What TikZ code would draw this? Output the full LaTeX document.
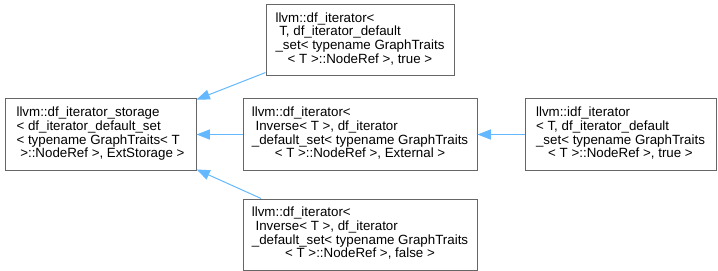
\documentclass[tikz,border=0pt]{standalone}
\usepackage{fontspec}
\setmainfont{Liberation Sans}
\usepackage{tikz}
\usetikzlibrary{arrows.meta}
\definecolor{boxgray}{HTML}{666666}
\definecolor{linkblue}{HTML}{63B8FF}
% class label: left-set lines, last line centred
\newcommand{\classlabel}[2]{%
  \begin{tabular}{@{}l@{}}#1\\\multicolumn{1}{@{}c@{}}{#2}\end{tabular}}

\begin{document}
\begin{tikzpicture}[x=0.75pt,y=-0.75pt,
    cls/.style={draw=boxgray,fill=white,line width=0.75pt,inner sep=0pt,
      minimum height=53.25pt,font=\fontsize{10}{10}\selectfont},
    inherit/.style={draw=linkblue,line width=0.75pt,
      -{Triangle[length=10pt,width=7.5pt]}}]
  \useasboundingbox (0,0) rectangle (718,271);
  % classes
  \node[cls,minimum width=143.25pt] (storage) at (100.5,134.5)
    {\classlabel{llvm::df\_iterator\_storage\\< df\_iterator\_default\_set\\< typename GraphTraits< T}{\ >::NodeRef >, ExtStorage >}};
  \node[cls,minimum width=141pt] (dfiter) at (360,40)
    {\classlabel{llvm::df\_iterator<\\\ T, df\_iterator\_default\\\_set< typename GraphTraits}{< T >::NodeRef >, true >}};
  \node[cls,minimum width=175.5pt] (dfinvext) at (360,134.5)
    {\classlabel{llvm::df\_iterator<\\\ Inverse< T >, df\_iterator\\\_default\_set< typename GraphTraits}{< T >::NodeRef >, External >}};
  \node[cls,minimum width=175.5pt] (dfinvfalse) at (360,234.5)
    {\classlabel{llvm::df\_iterator<\\\ Inverse< T >, df\_iterator\\\_default\_set< typename GraphTraits}{< T >::NodeRef >, false >}};
  \node[cls,minimum width=143.25pt] (idfiter) at (620.5,134.5)
    {\classlabel{llvm::idf\_iterator\\< T, df\_iterator\_default\\\_set< typename GraphTraits}{< T >::NodeRef >, true >}};
  % inheritance
  \draw[inherit] (dfiter.199) -- (storage.20);
  \draw[inherit] (dfinvext) -- (storage);
  \draw[inherit] (dfinvfalse.160) -- (storage.-20);
  \draw[inherit] (idfiter) -- (dfinvext);
\end{tikzpicture}
\end{document}
